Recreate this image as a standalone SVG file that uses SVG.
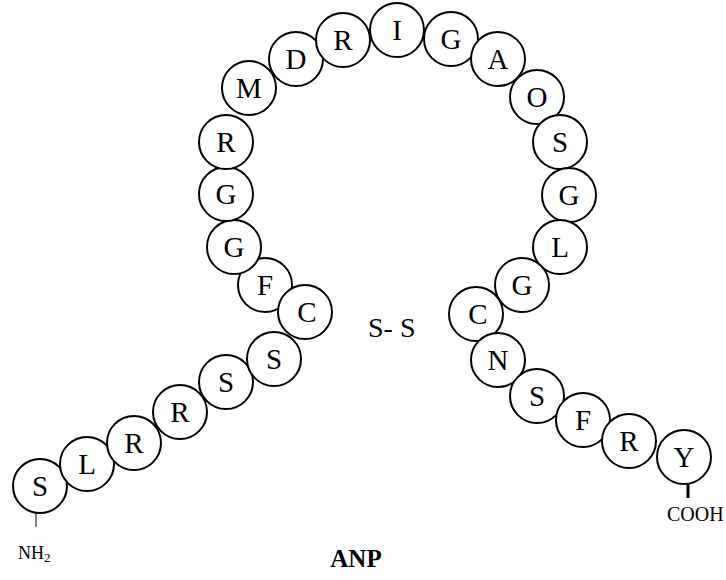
<svg xmlns="http://www.w3.org/2000/svg" width="726" height="580" viewBox="0 0 726 580">
  <style>
    .res circle { fill: #fff; stroke: #000; stroke-width: 2; }
    .res text { font-family: "Liberation Serif", "Times New Roman", serif; font-size: 29px; text-anchor: middle; fill: #000; }
    .lbl { font-family: "Liberation Serif", "Times New Roman", serif; fill: #000; }
  </style>
  <rect width="726" height="580" fill="#fff"/>

  <!-- terminal bonds -->
  <g id="connectors" stroke="#000">
    <line x1="36" y1="513" x2="36" y2="527" stroke-width="1"/>
    <line x1="688" y1="483" x2="688" y2="498" stroke-width="3"/>
  </g>

  <!-- amino-acid residues, N-terminus to C-terminus -->
  <g id="r1" class="res"><circle cx="40" cy="486" r="27"/><text x="40" y="496">S</text></g>
  <g id="r2" class="res"><circle cx="87" cy="464" r="27"/><text x="87" y="474">L</text></g>
  <g id="r3" class="res"><circle cx="134" cy="443" r="27"/><text x="134" y="453">R</text></g>
  <g id="r4" class="res"><circle cx="180" cy="412" r="27"/><text x="180" y="422">R</text></g>
  <g id="r5" class="res"><circle cx="226" cy="382" r="27"/><text x="226" y="392">S</text></g>
  <g id="r6" class="res"><circle cx="274" cy="359" r="27"/><text x="274" y="369">S</text></g>
  <g id="r8" class="res"><circle cx="265" cy="285" r="27"/><text x="265" y="295">F</text></g>
  <g id="r7" class="res"><circle cx="305" cy="312" r="27"/><text x="307" y="322">C</text></g>
  <g id="r9" class="res"><circle cx="234" cy="247" r="27"/><text x="234" y="257">G</text></g>
  <g id="r10" class="res"><circle cx="226" cy="194" r="27"/><text x="226" y="204">G</text></g>
  <g id="r11" class="res"><circle cx="226" cy="142" r="27"/><text x="226" y="152">R</text></g>
  <g id="r12" class="res"><circle cx="249" cy="88" r="27"/><text x="249" y="98">M</text></g>
  <g id="r13" class="res"><circle cx="296" cy="59" r="27"/><text x="296" y="69">D</text></g>
  <g id="r14" class="res"><circle cx="343" cy="40" r="27"/><text x="343" y="50">R</text></g>
  <g id="r15" class="res"><circle cx="397" cy="30" r="27"/><text x="397" y="40">I</text></g>
  <g id="r16" class="res"><circle cx="451" cy="39" r="27"/><text x="451" y="49">G</text></g>
  <g id="r17" class="res"><circle cx="498" cy="59" r="27"/><text x="498" y="69">A</text></g>
  <g id="r18" class="res"><circle cx="537" cy="97" r="27"/><text x="537" y="107">O</text></g>
  <g id="r19" class="res"><circle cx="560" cy="142" r="27"/><text x="560" y="152">S</text></g>
  <g id="r20" class="res"><circle cx="569" cy="195" r="27"/><text x="569" y="205">G</text></g>
  <g id="r21" class="res"><circle cx="560" cy="247" r="27"/><text x="560" y="257">L</text></g>
  <g id="r22" class="res"><circle cx="522" cy="285" r="27"/><text x="522" y="295">G</text></g>
  <g id="r23" class="res"><circle cx="476" cy="314" r="27"/><text x="478" y="324">C</text></g>
  <g id="r24" class="res"><circle cx="498" cy="360" r="27"/><text x="498" y="370">N</text></g>
  <g id="r25" class="res"><circle cx="537" cy="396" r="27"/><text x="537" y="406">S</text></g>
  <g id="r26" class="res"><circle cx="583" cy="420" r="27"/><text x="583" y="430">F</text></g>
  <g id="r27" class="res"><circle cx="629" cy="441" r="27"/><text x="629" y="451">R</text></g>
  <g id="r28" class="res"><circle cx="684" cy="457" r="27"/><text x="684" y="467">Y</text></g>

  <!-- labels -->
  <g id="disulfide"><text class="lbl" x="368" y="337" font-size="28">S- S</text></g>
  <g id="nterm"><text class="lbl" x="18" y="559" font-size="18">NH<tspan font-size="13" dy="3">2</tspan></text></g>
  <g id="cterm"><text class="lbl" x="667" y="521" font-size="20">COOH</text></g>
  <g id="title"><text class="lbl" x="356" y="567" font-size="25" font-weight="bold" text-anchor="middle">ANP</text></g>
</svg>
